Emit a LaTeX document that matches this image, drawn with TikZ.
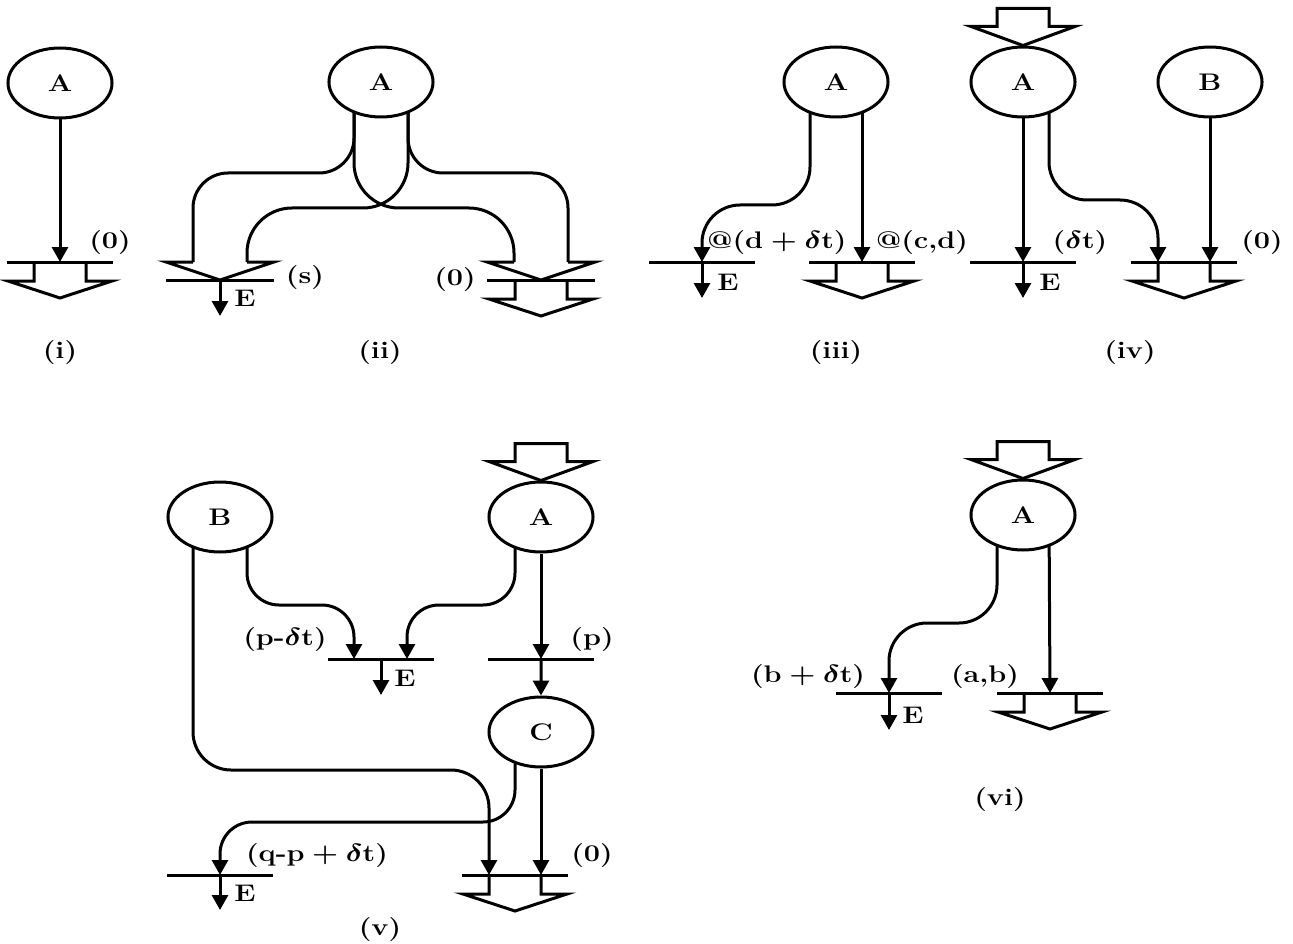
\documentclass[tikz,border=0pt]{standalone}
\usetikzlibrary{arrows.meta,backgrounds,shapes.geometric}

\newcommand{\txt}{\fontsize{24}{28}\selectfont\bfseries\boldmath}

\tikzset{
  proc/.style={ellipse,draw,fill=white,inner sep=0pt,
    minimum width=86.7pt,minimum height=70pt,xscale=1.2,font=\txt},
  bar/.style={inner sep=0pt,outer sep=0pt,minimum width=106pt,minimum height=0pt},
  lbl/.style={inner sep=0pt,xscale=1.2,font=\txt},
  arr/.style={-{Triangle[length=15pt,width=16pt]}},
  % hollow arrow leaving a bar downwards
  pics/outarrow/.style={code={
    \draw (-26,0) -- (-26,19) -- (-52,19) -- (0,36) -- (52,19) -- (26,19) -- (26,0);
  }},
  % open head of a hollow arrow, stems come from outside
  pics/inhead/.style={code={
    \draw (-27,-18) -- (-54,-18) -- (0,0) -- (54,-18) -- (27,-18);
    \coordinate (-l) at (-27,-18);
    \coordinate (-r) at (27,-18);
  }},
  % closed hollow arrow feeding a process from above
  pics/feed/.style={code={
    \draw (0,0) -- (-52,-19) -- (-26,-19) -- (-26,-37) -- (26,-37) -- (26,-19) -- (52,-19) -- cycle;
  }},
}

\begin{document}
\begin{tikzpicture}[x=1pt,y=-1pt,line width=3pt]
\useasboundingbox (0,0) rectangle (1293,944);

% (i)
\node[proc] (A1) at (60,83) {A};
\node[bar] (b1) at (60,262) {};
\pic at (b1) {outarrow};
\node[lbl] (l1) at (110,243) {(0)};
\node[lbl] (c1) at (60,353) {(i)};

% (ii)
\node[proc] (A2) at (381,82) {A};
\node[bar,minimum width=108pt] (b2L) at (220,280) {};
\node[bar,minimum width=108pt] (b2R) at (541,280) {};
\pic (h2L) at (b2L) {inhead};
\pic (h2R) at (b2R) {inhead};
\pic at (b2R) {outarrow};
\coordinate (e2) at (220,316);
\node[lbl] (E2) at (245,298) {E};
\node[lbl] (l2s) at (305,278) {(s)};
\node[lbl] (l2o) at (455,280) {(0)};
\node[lbl] (c2) at (380,353) {(ii)};

% (iii)
\node[proc] (A3) at (836,82) {A};
\node[bar] (b3L) at (702,262) {};
\node[bar] (b3R) at (862,262) {};
\pic at (b3R) {outarrow};
\coordinate (e3) at (702,298);
\node[lbl] (E3) at (728,282) {E};
\node[lbl] (l3a) at (777,243) {@(d${}+\delta$t)};
\node[lbl] (l3b) at (922,243) {@(c,d)};
\node[lbl] (c3) at (836,353) {(iii)};

% (iv)
\node[proc] (A4) at (1023,82) {A};
\node[proc] (B4) at (1210,82) {B};
\pic at (A4.north) {feed};
\node[bar] (b4L) at (1023,262) {};
\node[bar] (b4R) at (1184,262) {};
\pic at (b4R) {outarrow};
\coordinate (e4) at (1023,298);
\node[lbl] (E4) at (1050,282) {E};
\node[lbl] (l4a) at (1080,243) {($\delta$t)};
\node[lbl] (l4b) at (1262,243) {(0)};
\node[lbl] (c4) at (1130,353) {(iv)};

% (v)
\node[proc] (B5) at (220,517) {B};
\node[proc] (A5) at (541,517) {A};
\node[proc] (C5) at (541,732) {C};
\pic at (A5.north) {feed};
\node[bar] (b5M) at (381,659) {};
\node[bar] (b5P) at (541,659) {};
\node[bar] (b5E) at (220,875) {};
\node[bar] (b5O) at (515,875) {};
\pic at (b5O) {outarrow};
\coordinate (e5a) at (381,695);
\coordinate (e5b) at (220,910);
\node[lbl] (E5a) at (405,678) {E};
\node[lbl] (E5b) at (245,893) {E};
\node[lbl] (l5a) at (285,640) {(p-$\delta$t)};
\node[lbl] (l5b) at (592,640) {(p)};
\node[lbl] (l5c) at (317,856) {(q-p${}+\delta$t)};
\node[lbl] (l5d) at (592,856) {(0)};
\node[lbl] (c5) at (380,930) {(v)};

% (vi)
\node[proc] (A6) at (1023,515) {A};
\pic at (A6.north) {feed};
\node[bar] (b6E) at (889,693) {};
\node[bar] (b6O) at (1050,693) {};
\pic at (b6O) {outarrow};
\coordinate (e6) at (889,730);
\node[lbl] (E6) at (913,715) {E};
\node[lbl] (l6a) at (808,677) {(b${}+\delta$t)};
\node[lbl] (l6b) at (985,677) {(a,b)};
\node[lbl] (c6) at (1000,800) {(vi)};

\foreach \b in {b1,b2L,b2R,b3L,b3R,b4L,b4R,b5M,b5P,b5E,b5O,b6E,b6O}
  \draw (\b.west) -- (\b.east);

\begin{scope}[on background layer]
\begin{scope}[line width=3pt]
  % (i)
  \draw[arr] (A1) -- (b1.north);
  % (ii)
  \draw[rounded corners=35pt] ([xshift=-27pt]A2.center) -- ++(0,91) -| (h2L-l);
  \draw[rounded corners=35pt] ([xshift=27pt]A2.center) -- ++(0,91) -| (h2R-r);
  \draw[rounded corners=45pt] ([xshift=-27pt]A2.center) -- ++(0,126) -| (h2R-l);
  \draw[rounded corners=45pt] ([xshift=27pt]A2.center) -- ++(0,126) -| (h2L-r);
  \draw[arr] (b2L.south) -- (e2);
  % (iii)
  \draw[arr,rounded corners=38pt] ([xshift=-26pt]A3.center) -- ++(0,123) -| (b3L.north);
  \draw[arr] ([xshift=26pt]A3.center) -- (b3R.north);
  \draw[arr] (b3L.south) -- (e3);
  % (iv)
  \draw[arr] (A4) -- (b4L.north);
  \draw[arr,rounded corners=38pt] ([xshift=26pt]A4.center) -- ++(0,118) -| ([xshift=-26pt]b4R.north);
  \draw[arr] (B4) -- (B4 |- b4R.north);
  \draw[arr] (b4L.south) -- (e4);
  % (v)
  \draw[arr,rounded corners=38pt] ([xshift=-27pt]B5.center) -- ++(0,253) -| ([xshift=-26pt]b5O.north);
  \draw[arr,rounded corners=32pt] ([xshift=27pt]B5.center) -- ++(0,88) -| ([xshift=-27pt]b5M.north);
  \draw[arr,rounded corners=32pt] ([xshift=-26pt]A5.center) -- ++(0,88) -| ([xshift=26pt]b5M.north);
  \draw[arr] (A5) -- (b5P.north);
  \draw[arr] (b5P.south) -- (C5);
  \draw[arr] (b5M.south) -- (e5a);
  \draw[arr,rounded corners=32pt] ([xshift=-26pt]C5.center) -- ++(0,90) -| (b5E.north);
  \draw[arr] (C5) -- (C5 |- b5O.north);
  \draw[arr] (b5E.south) -- (e5b);
  % (vi)
  \draw[arr,rounded corners=38pt] ([xshift=-26pt]A6.center) -- ++(0,108) -| (b6E.north);
  \draw[arr] ([xshift=26pt]A6.center) -- (b6O.north);
  \draw[arr] (b6E.south) -- (e6);
\end{scope}
\end{scope}
\end{tikzpicture}
\end{document}
